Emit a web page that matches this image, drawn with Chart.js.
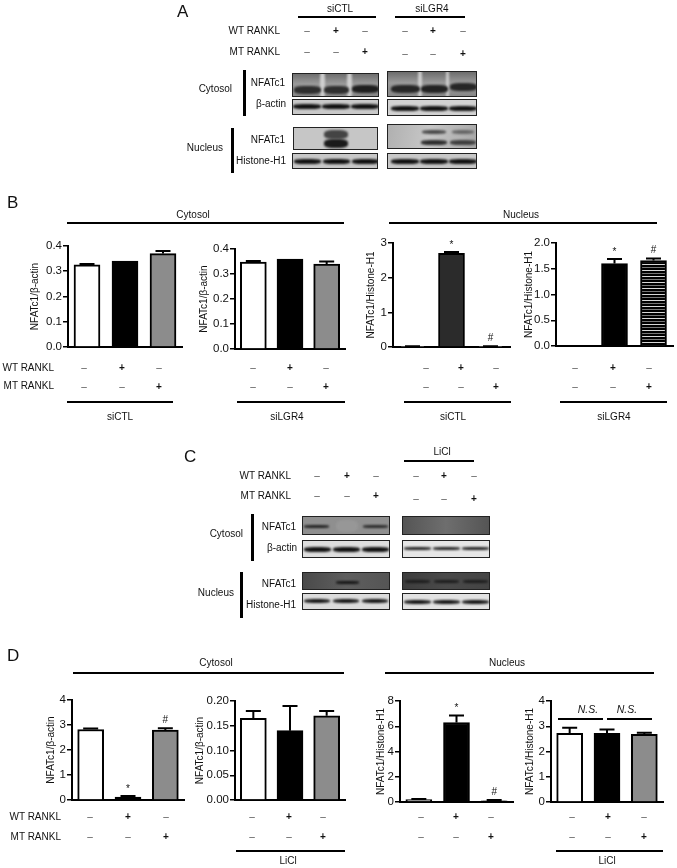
<!DOCTYPE html>
<html>
<head>
<meta charset="utf-8">
<title>NFATc1 blots</title>
<script src="https://cdn.jsdelivr.net/npm/chart.js@4"></script>
<style>
html, body { margin: 0; background: #fff; }
#page { position: relative; width: 677px; height: 868px; overflow: hidden; font-family: "Liberation Sans", Arial, sans-serif; color: #111; filter: blur(0.3px); }
#page canvas { position: absolute; }
.txt { position: absolute; white-space: nowrap; font-size: 10px; line-height: 12px; }
.rule { position: absolute; background: #000; }
.blot { position: absolute; box-sizing: border-box; border: 1px solid #222; overflow: hidden; }
.band { position: absolute; border-radius: 35%; filter: blur(1.2px); }
</style>
</head>
<body>
<div id="page"></div>
<script>
// ---- data ----
const categories = ['Control', 'WT RANKL', 'MT RANKL'];
const wtSigns = ['–', '+', '–'];
const mtSigns = ['–', '–', '+'];

// panel B
const bCytoCtl = [0.325, 0.34, 0.37];
const bCytoCtlErr = [0.004, 0, 0.01];
const bCytoLgr = [0.348, 0.36, 0.34];
const bCytoLgrErr = [0.004, 0, 0.01];
const bNucCtl = [0.02, 2.7, 0.02];
const bNucCtlErr = [0.005, 0.04, 0.005];
const bNucLgr = [0, 1.6, 1.66];
const bNucLgrErr = [0, 0.09, 0.04];

// panel D
const dCytoCtl = [2.82, 0.12, 2.8];
const dCytoCtlErr = [0.04, 0.04, 0.07];
const dCytoLi = [0.165, 0.14, 0.17];
const dCytoLiErr = [0.015, 0.05, 0.01];
const dNucCtl = [0.2, 6.3, 0.1];
const dNucCtlErr = [0.03, 0.55, 0.05];
const dNucLi = [2.72, 2.72, 2.68];
const dNucLiErr = [0.22, 0.15, 0.06];

// tick labels
const ticks04 = ['0.0', '0.1', '0.2', '0.3', '0.4'];
const ticks3 = ['0', '1', '2', '3'];
const ticks2 = ['0.0', '0.5', '1.0', '1.5', '2.0'];
const ticks4 = ['0', '1', '2', '3', '4'];
const ticks020 = ['0.00', '0.05', '0.10', '0.15', '0.20'];
const ticks8 = ['0', '2', '4', '6', '8'];

const page = document.getElementById('page');

// ---- helpers ----
function txt(s, x, y, align, style) {
    const d = document.createElement('div');
    d.className = 'txt';
    d.textContent = s;
    d.style.left = x + 'px';
    d.style.top = y + 'px';
    const tx = align === 'c' ? '-50%' : align === 'r' ? '-100%' : '0';
    d.style.transform = 'translate(' + tx + ',-50%)';
    if (style) Object.assign(d.style, style);
    page.appendChild(d);
}

function rule(x1, y1, x2, y2, t) {
    const d = document.createElement('div');
    d.className = 'rule';
    if (y1 === y2) {
        d.style.cssText = 'left:' + x1 + 'px;top:' + (y1 - t / 2) + 'px;width:' + (x2 - x1) + 'px;height:' + t + 'px';
    } else {
        d.style.cssText = 'left:' + (x1 - t / 2) + 'px;top:' + y1 + 'px;width:' + t + 'px;height:' + (y2 - y1) + 'px';
    }
    page.appendChild(d);
}

function signs(xs, y, list) {
    xs.forEach((x, i) => txt(list[i], x, y, 'c', list[i] === '–' ? { color: '#555' } : { fontWeight: 'bold' }));
}

// x, y, right, bottom of the frame, background, bands as [centre x, centre y, w, h, colour]
function blot(x, y, r, b, bg, bands) {
    const d = document.createElement('div');
    d.className = 'blot';
    d.style.cssText = 'left:' + x + 'px;top:' + y + 'px;width:' + (r - x) + 'px;height:' + (b - y) + 'px;background:' + bg;
    bands.forEach(p => {
        const s = document.createElement('div');
        s.className = 'band';
        s.style.cssText = 'left:' + (p[0] - x - p[2] / 2 - 1) + 'px;top:' + (p[1] - y - p[3] / 2 - 1) + 'px;width:' + p[2] + 'px;height:' + p[3] + 'px;background:' + p[4];
        d.appendChild(s);
    });
    page.appendChild(d);
}

function row3(xs, y, w, h, c) {
    return xs.map(x => [x, y, w, h, c]);
}

// upper error bars and the * / # marks
const errorBars = {
    id: 'errorBars',
    afterDatasetsDraw(chart, args, opts) {
        const ctx = chart.ctx;
        const yScale = chart.scales.y;
        chart.getDatasetMeta(0).data.forEach((bar, i) => {
            const base = yScale.getPixelForValue(opts.values[i]);
            const top = yScale.getPixelForValue(opts.values[i] + opts.errs[i]);
            ctx.save();
            ctx.strokeStyle = '#000';
            ctx.lineWidth = 2;
            if (opts.errs[i] > 0) {
                ctx.beginPath();
                ctx.moveTo(bar.x, base);
                ctx.lineTo(bar.x, top);
                ctx.moveTo(bar.x - 7.5, top);
                ctx.lineTo(bar.x + 7.5, top);
                ctx.stroke();
            }
            if (opts.marks[i]) {
                ctx.fillStyle = '#111';
                ctx.font = '10px "Liberation Sans"';
                ctx.textAlign = 'center';
                ctx.textBaseline = 'bottom';
                ctx.fillText(opts.marks[i], bar.x, top - (opts.marks[i] === '*' ? 2 : 3));
            }
            ctx.restore();
        });
    }
};

function stripes() {
    const c = document.createElement('canvas');
    c.width = 4;
    c.height = 6;
    const g = c.getContext('2d');
    g.fillStyle = '#000';
    g.fillRect(0, 0, 4, 6);
    g.fillStyle = '#d8d8d8';
    g.fillRect(0, 1, 4, 1);
    g.fillStyle = '#777';
    g.fillRect(0, 4, 4, 1);
    return g.createPattern(c, 'repeat');
}

function barChart(o) {
    const canvas = document.createElement('canvas');
    const leftRoom = 50;
    const left = o.axisX - leftRoom;
    const top = o.yTop - 10;
    const width = o.end - left + 4;
    const height = o.y0 - top + 10;
    canvas.style.left = left + 'px';
    canvas.style.top = top + 'px';
    canvas.style.width = width + 'px';
    canvas.style.height = height + 'px';
    canvas.width = width;
    canvas.height = height;
    page.appendChild(canvas);
    const step = o.max / (o.tickLabels.length - 1);
    new Chart(canvas, {
        type: 'bar',
        data: {
            labels: categories,
            datasets: [{
                data: o.values,
                backgroundColor: o.colors,
                borderColor: '#000',
                borderWidth: 2,
                barThickness: 26
            }]
        },
        options: {
            responsive: false,
            animation: false,
            layout: { padding: { left: leftRoom - o.titleGap - 10, top: 10, right: 4, bottom: 9 } },
            plugins: {
                legend: { display: false },
                tooltip: { enabled: false },
                errorBars: { values: o.values, errs: o.errs, marks: o.marks || [] }
            },
            scales: {
                x: {
                    grid: { display: false },
                    border: { color: '#000', width: 2 },
                    ticks: { display: false },
                    afterFit: s => { s.height = 1; }
                },
                y: {
                    min: 0,
                    max: o.max,
                    afterBuildTicks: s => { s.ticks = o.tickLabels.map((t, i) => ({ value: step * i })); },
                    afterFit: s => { s.width = o.titleGap + 10; },
                    grid: { drawOnChartArea: false, color: '#000', lineWidth: 1.5, tickLength: 5 },
                    border: { color: '#000', width: 2 },
                    ticks: {
                        autoSkip: false,
                        padding: 1,
                        color: '#111',
                        font: { family: 'Liberation Sans', size: 11.5 },
                        callback: (v, i) => o.tickLabels[i]
                    },
                    title: {
                        display: true,
                        text: o.title,
                        color: '#111',
                        font: { family: 'Liberation Sans', size: 10 }
                    }
                }
            }
        },
        plugins: [errorBars]
    });
}

Chart.defaults.font.family = 'Liberation Sans';
const GREY = '#8c8c8c';

// ---- panel A ----
txt('A', 177, 12, 'l', { fontSize: '17px' });
txt('siCTL', 340, 9, 'c');
rule(298, 17, 376, 17, 1.5);
txt('siLGR4', 432, 9, 'c');
rule(395, 17, 465, 17, 1.5);
txt('WT RANKL', 280, 31, 'r');
txt('MT RANKL', 280, 52, 'r');
signs([307, 336, 365], 31, wtSigns);
signs([307, 336, 365], 52, mtSigns);
signs([405, 433, 463], 31, wtSigns);
signs([405, 433, 463], 54, mtSigns);
txt('Cytosol', 232, 89, 'r');
rule(244, 70, 244, 116, 3);
txt('NFATc1', 268, 83, 'c');
txt('β-actin', 271, 104, 'c');
txt('Nucleus', 223, 148, 'r');
rule(232, 128, 232, 173, 3);
txt('NFATc1', 268, 140, 'c');
txt('Histone-H1', 261, 161, 'c');

blot(292, 73, 379, 97, 'linear-gradient(#6f6f6f,#9a9a9a 45%,#8a8a8a)', [
    [322, 85, 5, 30, '#cfcfcf'], [349, 85, 5, 30, '#cfcfcf'],
    [307, 90, 27, 8, '#2e2e2e'], [336, 90, 25, 8, '#2e2e2e'], [365, 89, 27, 8, '#1f1f1f']
]);
blot(292, 99, 379, 115, '#c9c9c9', row3([307, 336, 365], 106, 28, 5, '#111'));
blot(387, 71, 477, 97, 'linear-gradient(#6d6d6d,#9a9a9a 45%,#888)', [
    [420, 84, 4, 32, '#cdcdcd'], [447, 84, 3, 32, '#cdcdcd'],
    [405, 89, 29, 8, '#262626'], [434, 89, 27, 8, '#222'], [463, 87, 27, 8, '#262626']
]);
blot(387, 99, 477, 116, '#d2d2d2', row3([405, 434, 463], 108, 28, 5, '#111'));
blot(293, 127, 378, 150, '#c6c6c6', [
    [336, 134, 24, 9, '#444'], [336, 143, 24, 9, '#1a1a1a']
]);
blot(292, 153, 378, 169, '#c8c8c8', row3([307, 336, 365], 161, 27, 5, '#111'));
blot(387, 124, 477, 149, 'linear-gradient(100deg,#b0b0b0,#c6c6c6 45%,#a8a8a8)', [
    [434, 132, 24, 4, '#4a4a4a'], [463, 132, 22, 4, '#666'],
    [434, 142, 26, 5, '#2e2e2e'], [463, 142, 26, 5, '#3e3e3e']
]);
blot(387, 153, 477, 169, '#c8c8c8', row3([405, 434, 463], 161, 28, 5, '#111'));

// ---- panel B ----
txt('B', 7, 203, 'l', { fontSize: '17px' });
txt('Cytosol', 193, 215, 'c');
rule(67, 223, 344, 223, 2);
txt('Nucleus', 521, 215, 'c');
rule(389, 223, 657, 223, 2);

barChart({ axisX: 68, yTop: 246, y0: 347, end: 182, max: 0.4, tickLabels: ticks04, title: 'NFATc1/β-actin', titleGap: 33,
    values: bCytoCtl, errs: bCytoCtlErr, colors: ['#fff', '#000', GREY] });
barChart({ axisX: 235, yTop: 249, y0: 349, end: 345, max: 0.4, tickLabels: ticks04, title: 'NFATc1/β-actin', titleGap: 31,
    values: bCytoLgr, errs: bCytoLgrErr, colors: ['#fff', '#000', GREY] });
barChart({ axisX: 393, yTop: 243, y0: 347, end: 510, max: 3, tickLabels: ticks3, title: 'NFATc1/Histone-H1', titleGap: 22,
    values: bNucCtl, errs: bNucCtlErr, colors: ['#fff', '#2b2b2b', '#fff'], marks: ['', '*', '#'] });
barChart({ axisX: 556, yTop: 243, y0: 346, end: 673, max: 2, tickLabels: ticks2, title: 'NFATc1/Histone-H1', titleGap: 27,
    values: bNucLgr, errs: bNucLgrErr, colors: ['#fff', '#000', stripes()], marks: ['', '*', '#'] });

txt('WT RANKL', 54, 368, 'r');
txt('MT RANKL', 54, 386, 'r');
[[84, 122, 159], [253, 290, 326], [426, 461, 496], [575, 613, 649]].forEach(xs => {
    signs(xs, 368, wtSigns);
    signs(xs, 387, mtSigns);
});
rule(67, 402, 173, 402, 1.5);
rule(237, 402, 345, 402, 1.5);
rule(404, 402, 511, 402, 1.5);
rule(560, 402, 667, 402, 1.5);
txt('siCTL', 120, 417, 'c');
txt('siLGR4', 287, 417, 'c');
txt('siCTL', 453, 417, 'c');
txt('siLGR4', 614, 417, 'c');

// ---- panel C ----
txt('C', 184, 457, 'l', { fontSize: '17px' });
txt('LiCl', 442, 452, 'c');
rule(404, 461, 474, 461, 1.5);
txt('WT RANKL', 291, 476, 'r');
txt('MT RANKL', 291, 496, 'r');
signs([317, 347, 376], 476, wtSigns);
signs([317, 347, 376], 496, mtSigns);
signs([416, 444, 474], 476, wtSigns);
signs([416, 444, 474], 499, mtSigns);
txt('Cytosol', 243, 534, 'r');
rule(252, 514, 252, 561, 3);
txt('NFATc1', 279, 527, 'c');
txt('β-actin', 282, 548, 'c');
txt('Nucleus', 234, 593, 'r');
rule(241, 572, 241, 618, 3);
txt('NFATc1', 279, 584, 'c');
txt('Histone-H1', 271, 605, 'c');

blot(302, 516, 390, 535, '#8f8f8f', [
    [316, 526, 25, 3, '#222'], [375, 526, 25, 3, '#2a2a2a'], [347, 526, 22, 12, '#979797']
]);
blot(302, 540, 390, 558, '#dedede', row3([317, 346, 375], 549, 27, 5, '#111'));
blot(402, 516, 490, 535, 'linear-gradient(90deg,#555,#6e6e6e 50%,#555)', []);
blot(402, 540, 490, 558, '#e6e6e6', row3([417, 446, 475], 548, 27, 3, '#222'));
blot(302, 572, 390, 590, 'linear-gradient(90deg,#4a4a4a,#5e5e5e 50%,#555)', [
    [347, 582, 23, 3, '#151515']
]);
blot(302, 593, 390, 610, '#dcdcdc', row3([317, 346, 375], 601, 26, 4, '#161616'));
blot(402, 572, 490, 590, 'linear-gradient(90deg,#3e3e3e,#4a4a4a 50%,#444)', row3([417, 446, 475], 581, 25, 3, '#1c1c1c'));
blot(402, 593, 490, 610, '#e2e2e2', row3([417, 446, 475], 602, 27, 4, '#151515'));

// ---- panel D ----
txt('D', 7, 656, 'l', { fontSize: '17px' });
txt('Cytosol', 216, 663, 'c');
rule(73, 673, 344, 673, 2);
txt('Nucleus', 507, 663, 'c');
rule(385, 673, 654, 673, 2);

barChart({ axisX: 72, yTop: 700, y0: 800, end: 184, max: 4, tickLabels: ticks4, title: 'NFATc1/β-actin', titleGap: 21,
    values: dCytoCtl, errs: dCytoCtlErr, colors: ['#fff', '#000', GREY], marks: ['', '*', '#'] });
barChart({ axisX: 235, yTop: 701, y0: 800, end: 345, max: 0.2, tickLabels: ticks020, title: 'NFATc1/β-actin', titleGap: 35,
    values: dCytoLi, errs: dCytoLiErr, colors: ['#fff', '#000', GREY] });
barChart({ axisX: 400, yTop: 701, y0: 802, end: 513, max: 8, tickLabels: ticks8, title: 'NFATc1/Histone-H1', titleGap: 19,
    values: dNucCtl, errs: dNucCtlErr, colors: [GREY, '#000', '#000'], marks: ['', '*', '#'] });
barChart({ axisX: 551, yTop: 701, y0: 802, end: 663, max: 4, tickLabels: ticks4, title: 'NFATc1/Histone-H1', titleGap: 21,
    values: dNucLi, errs: dNucLiErr, colors: ['#fff', '#000', GREY] });

txt('N.S.', 588, 709, 'c', { fontStyle: 'italic', fontSize: '10.5px' });
txt('N.S.', 627, 709, 'c', { fontStyle: 'italic', fontSize: '10.5px' });
rule(558, 719, 603, 719, 1.5);
rule(607, 719, 652, 719, 1.5);

txt('WT RANKL', 61, 817, 'r');
txt('MT RANKL', 61, 837, 'r');
[[90, 128, 166], [252, 289, 323], [421, 456, 491], [572, 608, 644]].forEach(xs => {
    signs(xs, 817, wtSigns);
    signs(xs, 837, mtSigns);
});
rule(236, 851, 345, 851, 1.5);
rule(556, 851, 663, 851, 1.5);
txt('LiCl', 288, 861, 'c');
txt('LiCl', 607, 861, 'c');
</script>
</body>
</html>
